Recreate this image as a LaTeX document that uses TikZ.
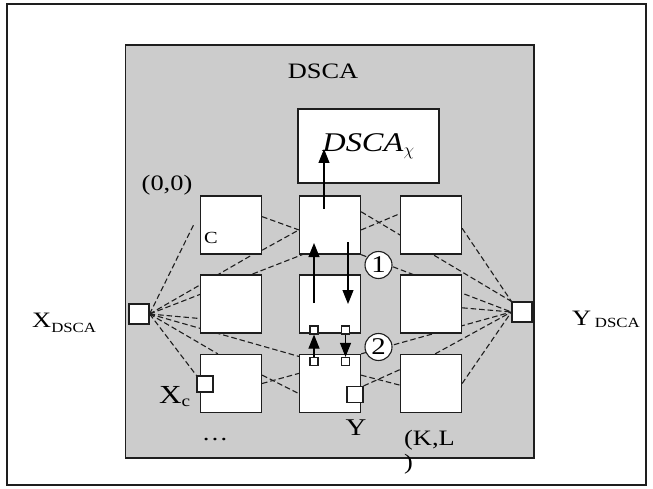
\documentclass[tikz,border=0pt]{standalone}
\usepackage{fontspec}
\setmainfont{Liberation Serif}[FakeStretch=1.2]
\usepackage{tikz}
\usetikzlibrary{arrows.meta,calc,positioning}
\definecolor{dsGray}{RGB}{204,204,204}
\definecolor{dsInk}{RGB}{30,30,30}
\newcommand{\dsSubFont}{\fontsize{14}{14}\selectfont}
\newcommand{\dsLow}[2]{\raisebox{-#1}{\dsSubFont #2}}
\pgfdeclarelayer{dsBack}
\pgfdeclarelayer{dsWires}
\pgfsetlayers{dsBack,dsWires,main}

\begin{document}
\begin{tikzpicture}[x=1pt,y=-1pt,
  cell/.style={draw=dsInk,fill=white,line width=1.3pt,minimum width=61pt,minimum height=58pt,inner sep=0pt},
  port/.style={draw=dsInk,fill=white,line width=1.2pt,minimum size=#1,inner sep=0pt},
  wire/.style={draw=dsInk,line width=1.1pt,dash pattern=on 5.5pt off 3pt},
  flow/.style={draw=black,line width=1.1pt,-{Triangle[length=14pt,width=11pt]}},
  numdisc/.style={circle,draw=dsInk,fill=white,line width=1.1pt,minimum size=27pt,inner sep=0pt,font=\fontsize{24}{24}\selectfont},
  lbl/.style={inner sep=0pt,font=\fontsize{22}{22}\selectfont}]
  \useasboundingbox (0,0) rectangle (653,489);
  \draw[dsInk,line width=1.6pt] (7,4) rectangle (646,485);
  \begin{pgfonlayer}{dsBack}
    \fill[dsGray,draw=dsInk,line width=1.3pt] (125.7,45) rectangle (534,458);
  \end{pgfonlayer}
  \node[lbl] (title) at (323,71) {DSCA};
  \node[cell,minimum width=141pt,minimum height=74pt,font=\fontsize{27}{27}\selectfont] (chi) at (368.5,146) {\textit{DSCA}$_\chi$};
  \foreach \r/\yy in {1/225,2/304,3/383.5}
    \foreach \c/\xx in {1/231,2/330,3/431}
      \node[cell] (b\r\c) at (\xx,\yy) {};
  \node[port=20pt] (L) at (139,314) {};
  \node[port=20pt] (R) at (522,312) {};
  \node[port=16pt] (Xc) at (205,384) {};
  \node[port=16pt] (Yp) at (355,394.5) {};
  \node[port=8pt] (t1) at (314,330) {};
  \node[port=8pt] (t2) at (345.5,330) {};
  \node[port=8pt] (t3) at (314,361.5) {};
  \node[port=8pt] (t4) at (345.5,361.5) {};
  \coordinate (lTip) at (194,224);
  \begin{pgfonlayer}{dsWires}
    \draw[wire] (L.east) -- (lTip);
    \draw[wire] (L.east) -- (b11.-54);
    \draw[wire] (L.east) -- (b12.-133);
    \draw[wire] (L.east) -- (b21.205);
    \draw[wire] (L.east) -- (b32.139);
    \draw[wire] (L.east) -- (b31.114);
    \draw[wire] (L.east) -- (Xc.north west);
    \draw[wire] (b13.-6) -- (R.north west);
    \draw[wire] (b12.23) -- (R.north west);
    \draw[wire] (b12.south east) -- (R.west);
    \draw[wire] (b23.-7) -- (R.west);
    \draw[wire] (b32.north east) -- (R.west);
    \draw[wire] (b33.82) -- (R.west);
    \draw[wire] (b33.east) -- (R.west);
    \draw[wire] (b11.15) -- (b12.189);
    \draw[wire] (b11.-39) -- (b12.189);
    \draw[wire] (b12.-9) -- (b13.160);
    \draw[wire] (b31.east) -- (b32.162);
    \draw[wire] (b31.15) -- (b32.198);
    \draw[wire] (b32.15) -- (b33.183);
    \draw[wire] (Yp.north east) -- (b33.156);
  \end{pgfonlayer}
  \node[numdisc] (n1) at (378.5,265) {1};
  \node[numdisc] (n2) at (378.5,347) {2};
  \coordinate (upA) at (324,209);
  \coordinate (upB) at (324,149);
  \coordinate (riseA) at (314,303);
  \coordinate (riseB) at (314,243);
  \coordinate (dropA) at (348,242);
  \coordinate (dropB) at (348,304);
  \draw[flow] (upA) -- (upB);
  \draw[flow] (riseA) -- (riseB);
  \draw[flow] (dropA) -- (dropB);
  \draw[flow] (t3.north) -- (t1.south);
  \draw[flow] (t2.south) -- (t4.north);
  \node[lbl] (origin) at (167,185) {(0,0)};
  \node[lbl,font=\fontsize{17}{17}\selectfont] (cLbl) at (211,238) {C};
  \node[lbl,anchor=base west,font=\fontsize{26}{26}\selectfont] (xcLbl) at (159,403) {X\raisebox{-3pt}{\fontsize{16}{16}\selectfont c}};
  \node[lbl,anchor=base,font=\fontsize{24}{24}\selectfont] (yLbl) at (356,435) {Y};
  \node[lbl,anchor=base west] (klLbl) at (404,445) {(K,L};
  \node[lbl,anchor=base west] (klEnd) at (404,469) {)};
  \node[lbl,anchor=base] (dots) at (215,440) {\ldots};
  \node[lbl,anchor=base west] (xLbl) at (32,327) {X\dsLow{5pt}{DSCA}};
  \node[lbl,anchor=base west] (yDsLbl) at (572,325) {Y\,\dsLow{2pt}{DSCA}};
\end{tikzpicture}
\end{document}
